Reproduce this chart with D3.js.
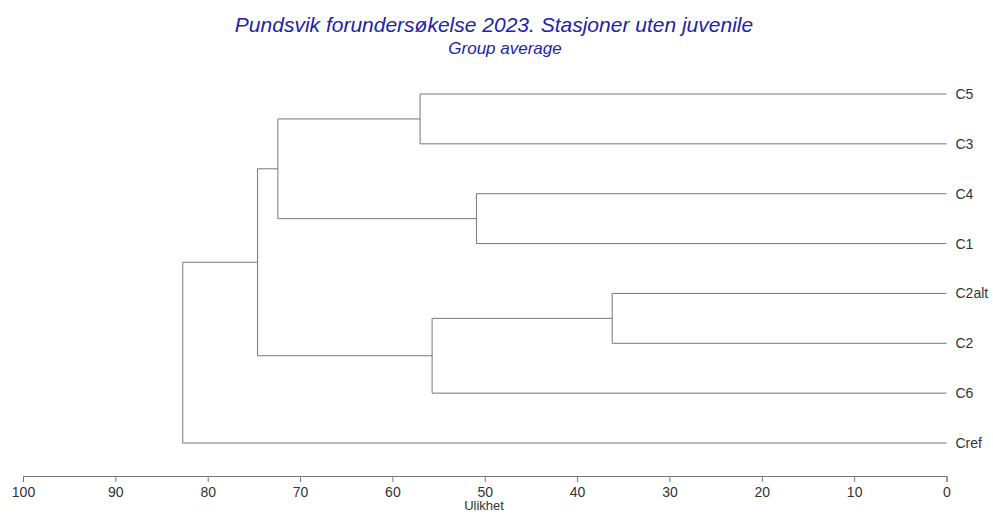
<!DOCTYPE html>
<html>
<head>
<meta charset="utf-8">
<script src="https://cdn.jsdelivr.net/npm/d3@7"></script>
<style>
  body { margin: 0; background: #fff; }
  text { font-family: "Liberation Sans", Arial, sans-serif; }
</style>
</head>
<body>
<div id="chart"></div>
<script>
// leaf order top to bottom
const leaves = ["C5", "C3", "C4", "C1", "C2alt", "C2", "C6", "Cref"];
// merges, hclust style: m1..m7
const mergeLeft = ["C5", "C4", "C2alt", "m3", "m1", "m5", "m6"];
const mergeRight = ["C3", "C1", "C2", "C6", "m2", "m4", "Cref"];
const mergeHeight = [57.0, 50.9, 36.2, 55.7, 72.4, 74.6, 82.7];
const tickValues = [100, 90, 80, 70, 60, 50, 40, 30, 20, 10, 0];

const width = 993, height = 514;
const svg = d3.select("#chart").append("svg")
    .attr("width", width)
    .attr("height", height);

// build the tree
let nodes = {};
leaves.forEach(l => nodes[l] = {name: l, h: 0});
mergeLeft.forEach((l, i) => {
    nodes["m" + (i + 1)] = {name: "m" + (i + 1), h: mergeHeight[i], children: [nodes[l], nodes[mergeRight[i]]]};
});
const root = d3.hierarchy(nodes["m" + mergeLeft.length]);

const yTop = 94, yBottom = 443;
const step = (yBottom - yTop) / (leaves.length - 1);
d3.cluster().nodeSize([step, 1]).separation(() => 1)(root);
const firstLeaf = root.leaves()[0].x;

const xScale = d3.scaleLinear().domain([100, 0]).range([23, 946.5]);
const yPos = d => yTop + d.x - firstLeaf;

const g = svg.append("g");
root.descendants().filter(d => d.children).forEach(d => {
    const x0 = xScale(d.data.h);
    const ys = d.children.map(yPos);
    g.append("line")
        .attr("x1", x0).attr("x2", x0)
        .attr("y1", d3.min(ys)).attr("y2", d3.max(ys))
        .attr("stroke", "#777").attr("stroke-width", 1);
    d.children.forEach(c => {
        g.append("line")
            .attr("x1", x0).attr("x2", xScale(c.data.h))
            .attr("y1", yPos(c)).attr("y2", yPos(c))
            .attr("stroke", "#777").attr("stroke-width", 1);
    });
});

// leaf labels
g.selectAll(".leaf")
    .data(root.leaves())
    .enter()
    .append("text")
    .attr("class", "leaf")
    .attr("x", xScale(0) + 9)
    .attr("y", d => yPos(d))
    .attr("dy", "0.36em")
    .attr("font-size", 14)
    .attr("fill", "#333")
    .text(d => d.data.name);

// axis
const xAxis = d3.axisBottom(xScale)
    .tickValues(tickValues)
    .tickSizeOuter(0)
    .tickSize(6)
    .tickPadding(5);
const ax = svg.append("g")
    .attr("transform", "translate(0,476)")
    .call(xAxis);
ax.select(".domain").attr("stroke", "#777");
ax.selectAll(".tick line").attr("stroke", "#777");
ax.selectAll(".tick text")
    .attr("font-size", 14)
    .attr("font-family", "Liberation Sans, Arial, sans-serif")
    .attr("fill", "#333");

svg.append("text")
    .attr("x", 484).attr("y", 510)
    .attr("text-anchor", "middle")
    .attr("font-size", 13)
    .attr("fill", "#333")
    .text("Ulikhet");

// titles
svg.append("text")
    .attr("x", 494).attr("y", 32)
    .attr("text-anchor", "middle")
    .attr("font-size", 21)
    .attr("font-style", "italic")
    .attr("fill", "#2222aa")
    .text("Pundsvik forundersøkelse 2023. Stasjoner uten juvenile");

svg.append("text")
    .attr("x", 505).attr("y", 54)
    .attr("text-anchor", "middle")
    .attr("font-size", 17)
    .attr("font-style", "italic")
    .attr("fill", "#2222aa")
    .text("Group average");
</script>
</body>
</html>
